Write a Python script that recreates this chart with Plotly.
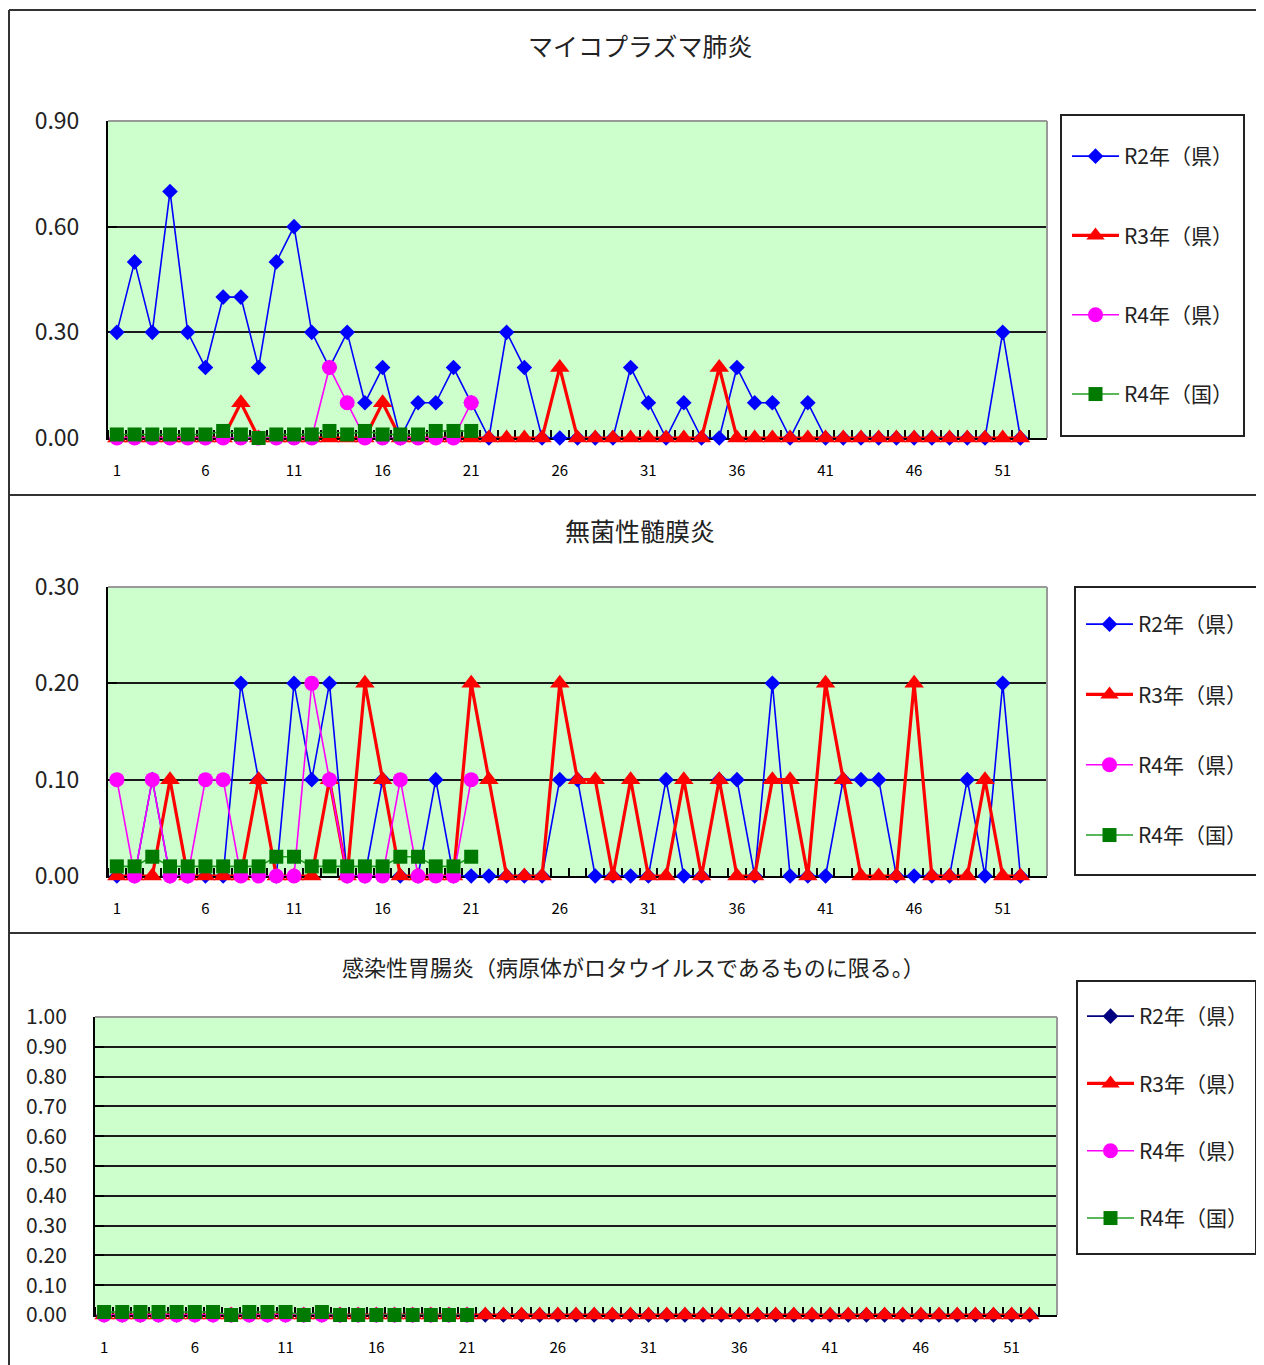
import plotly.graph_objects as go

W, H = 1264, 1365
OFF = 8  # page body margin offset

# ---------------- data ----------------
weeks = list(range(1, 53))
weeks21 = weeks[:21]
series_names = ["R2年（県）", "R3年（県）", "R4年（県）", "R4年（国）"]
x_tick_labels = [1, 6, 11, 16, 21, 26, 31, 36, 41, 46, 51]

# マイコプラズマ肺炎
myco_r2 = [0.3, 0.5, 0.3, 0.7, 0.3, 0.2, 0.4, 0.4, 0.2, 0.5,
           0.6, 0.3, 0.2, 0.3, 0.1, 0.2, 0.0, 0.1, 0.1, 0.2,
           0.1, 0.0, 0.3, 0.2, 0.0, 0.0, 0.0, 0.0, 0.0, 0.2,
           0.1, 0.0, 0.1, 0.0, 0.0, 0.2, 0.1, 0.1, 0.0, 0.1,
           0.0, 0.0, 0.0, 0.0, 0.0, 0.0, 0.0, 0.0, 0.0, 0.0,
           0.3, 0.0]
myco_r3 = [0.0, 0.0, 0.0, 0.0, 0.0, 0.0, 0.0, 0.1, 0.0, 0.0,
           0.0, 0.0, 0.0, 0.0, 0.0, 0.1, 0.0, 0.0, 0.0, 0.0,
           0.0, 0.0, 0.0, 0.0, 0.0, 0.2, 0.0, 0.0, 0.0, 0.0,
           0.0, 0.0, 0.0, 0.0, 0.2, 0.0, 0.0, 0.0, 0.0, 0.0,
           0.0, 0.0, 0.0, 0.0, 0.0, 0.0, 0.0, 0.0, 0.0, 0.0,
           0.0, 0.0]
myco_r4_pref = [0.0, 0.0, 0.0, 0.0, 0.0, 0.0, 0.0, 0.0, 0.0, 0.0,
                0.0, 0.0, 0.2, 0.1, 0.0, 0.0, 0.0, 0.0, 0.0, 0.0,
                0.1]
myco_r4_nat = [0.01, 0.01, 0.01, 0.01, 0.01, 0.01, 0.02, 0.01, 0.00, 0.01,
               0.01, 0.01, 0.02, 0.01, 0.02, 0.01, 0.01, 0.01, 0.02, 0.02,
               0.02]

# 無菌性髄膜炎
asep_r2 = [0.0, 0.0, 0.1, 0.0, 0.0, 0.0, 0.0, 0.2, 0.1, 0.0,
           0.2, 0.1, 0.2, 0.0, 0.0, 0.1, 0.0, 0.0, 0.1, 0.0,
           0.0, 0.0, 0.0, 0.0, 0.0, 0.1, 0.1, 0.0, 0.0, 0.0,
           0.0, 0.1, 0.0, 0.0, 0.1, 0.1, 0.0, 0.2, 0.0, 0.0,
           0.0, 0.1, 0.1, 0.1, 0.0, 0.0, 0.0, 0.0, 0.1, 0.0,
           0.2, 0.0]
asep_r3 = [0.0, 0.0, 0.0, 0.1, 0.0, 0.0, 0.0, 0.0, 0.1, 0.0,
           0.0, 0.0, 0.1, 0.0, 0.2, 0.1, 0.0, 0.0, 0.0, 0.0,
           0.2, 0.1, 0.0, 0.0, 0.0, 0.2, 0.1, 0.1, 0.0, 0.1,
           0.0, 0.0, 0.1, 0.0, 0.1, 0.0, 0.0, 0.1, 0.1, 0.0,
           0.2, 0.1, 0.0, 0.0, 0.0, 0.2, 0.0, 0.0, 0.0, 0.1,
           0.0, 0.0]
asep_r4_pref = [0.1, 0.0, 0.1, 0.0, 0.0, 0.1, 0.1, 0.0, 0.0, 0.0,
                0.0, 0.2, 0.1, 0.0, 0.0, 0.0, 0.1, 0.0, 0.0, 0.0,
                0.1]
asep_r4_nat = [0.01, 0.01, 0.02, 0.01, 0.01, 0.01, 0.01, 0.01, 0.01, 0.02,
               0.02, 0.01, 0.01, 0.01, 0.01, 0.01, 0.02, 0.02, 0.01, 0.01,
               0.02]

# 感染性胃腸炎（ロタウイルス）
rota_r2 = [0.0, 0.0, 0.0, 0.0, 0.0, 0.0, 0.0, 0.0, 0.0, 0.0,
           0.0, 0.0, 0.0, 0.0, 0.0, 0.0, 0.0, 0.0, 0.0, 0.0,
           0.0, 0.0, 0.0, 0.0, 0.0, 0.0, 0.0, 0.0, 0.0, 0.0,
           0.0, 0.0, 0.0, 0.0, 0.0, 0.0, 0.0, 0.0, 0.0, 0.0,
           0.0, 0.0, 0.0, 0.0, 0.0, 0.0, 0.0, 0.0, 0.0, 0.0,
           0.0, 0.0]
rota_r3 = [0.0, 0.0, 0.0, 0.0, 0.0, 0.0, 0.0, 0.0, 0.0, 0.0,
           0.0, 0.0, 0.0, 0.0, 0.0, 0.0, 0.0, 0.0, 0.0, 0.0,
           0.0, 0.0, 0.0, 0.0, 0.0, 0.0, 0.0, 0.0, 0.0, 0.0,
           0.0, 0.0, 0.0, 0.0, 0.0, 0.0, 0.0, 0.0, 0.0, 0.0,
           0.0, 0.0, 0.0, 0.0, 0.0, 0.0, 0.0, 0.0, 0.0, 0.0,
           0.0, 0.0]
rota_r4_pref = [0.0, 0.0, 0.0, 0.0, 0.0, 0.0, 0.0, 0.0, 0.0, 0.0,
                0.0, 0.0, 0.0, 0.0, 0.0, 0.0, 0.0, 0.0, 0.0, 0.0,
                0.0]
rota_r4_nat = [0.01, 0.01, 0.01, 0.01, 0.01, 0.01, 0.01, 0.00, 0.01, 0.01,
               0.01, 0.00, 0.01, 0.00, 0.00, 0.00, 0.00, 0.00, 0.00, 0.00,
               0.00]

titles = ["マイコプラズマ肺炎", "無菌性髄膜炎",
          "感染性胃腸炎（病原体がロタウイルスであるものに限る。）"]

# ---------------- styling ----------------
FONT = "Noto Sans CJK JP, Noto Sans, sans-serif"


def fx(px):
    return (px - OFF) / W


def fy(py):
    return 1 - (py - OFF) / H


fig = go.Figure()

panels = [
    dict(data=[myco_r2, myco_r3, myco_r4_pref, myco_r4_nat], r2color="#0000FF"),
    dict(data=[asep_r2, asep_r3, asep_r4_pref, asep_r4_nat], r2color="#0000FF"),
    dict(data=[rota_r2, rota_r3, rota_r4_pref, rota_r4_nat], r2color="#000080"),
]

for i, p in enumerate(panels):
    xa = "x" if i == 0 else f"x{i+1}"
    ya = "y" if i == 0 else f"y{i+1}"
    lg = "legend" if i == 0 else f"legend{i+1}"
    r2, r3, r4p, r4n = p["data"]
    specs = [
        (weeks, r2, series_names[0], p["r2color"], 1.6, "diamond", 12, p["r2color"]),
        (weeks, r3, series_names[1], "#FF0000", 3.2, "triangle-up", 17, "#FF0000"),
        (weeks21, r4p, series_names[2], "#FF00FF", 1.6, "circle", 15, "#FF00FF"),
        (weeks21, r4n, series_names[3], "#22A022", 1.6, "square", 14, "#007A00"),
    ]
    for k, (xs, ys, nm, lc, lw, sym, ms, mc) in enumerate(specs):
        fig.add_trace(go.Scatter(
            x=xs, y=ys, name=nm, mode="lines+markers",
            line=dict(color=lc, width=lw),
            marker=dict(symbol=sym, size=ms, color=mc, line=dict(width=0)),
            xaxis=xa, yaxis=ya, legend=lg, legendgroup=f"g{i}{k}",
            cliponaxis=False, showlegend=True,
        ))

plot_areas = [
    dict(x0=108, x1=1047, y0=121, y1=438, yrange=[0, 0.9], ytv=[0, 0.3, 0.6, 0.9], yfs=23),
    dict(x0=108, x1=1047, y0=587, y1=876, yrange=[0, 0.3], ytv=[0, 0.1, 0.2, 0.3], yfs=23),
    dict(x0=95, x1=1057, y0=1017, y1=1315, yrange=[0, 1.0],
         ytv=[0, 0.1, 0.2, 0.3, 0.4, 0.5, 0.6, 0.7, 0.8, 0.9, 1.0], yfs=21),
]

layout_axes = {}
shapes = []
for i, a in enumerate(plot_areas):
    xk = "xaxis" if i == 0 else f"xaxis{i+1}"
    yk = "yaxis" if i == 0 else f"yaxis{i+1}"
    xa = "x" if i == 0 else f"x{i+1}"
    ya = "y" if i == 0 else f"y{i+1}"
    layout_axes[xk] = dict(
        domain=[fx(a["x0"]), fx(a["x1"])], anchor=ya, range=[0.5, 53.5],
        tickmode="array", tickvals=x_tick_labels, ticktext=[str(v) for v in x_tick_labels],
        ticks="", showgrid=False, zeroline=False,
        showline=True, linecolor="#000000", linewidth=2,
        minor=dict(tickmode="linear", tick0=0.5, dtick=1, ticks="inside",
                   ticklen=8, tickcolor="#000000", tickwidth=1.5, showgrid=False),
        tickfont=dict(family=FONT, size=15, color="#000000"),
        ticklabelstandoff=18, layer="below traces", fixedrange=True,
    )
    layout_axes[yk] = dict(
        domain=[fy(a["y1"]), fy(a["y0"])], anchor=xa, range=a["yrange"],
        tickmode="array", tickvals=a["ytv"], tickformat=".2f",
        ticks="inside", ticklen=9, tickcolor="#000000", tickwidth=1.5,
        showgrid=True, gridcolor="#1a1a1a", gridwidth=2, zeroline=False,
        showline=True, linecolor="#000000", linewidth=2,
        tickfont=dict(family=FONT, size=a["yfs"], color="#222222"),
        ticklabelstandoff=22, layer="below traces", fixedrange=True,
    )
    # gray top / right border of plot area
    shapes.append(dict(type="line", xref=f"{xa} domain", yref=f"{ya} domain",
                       x0=1, x1=1, y0=0, y1=1, line=dict(color="#999999", width=2)))
    shapes.append(dict(type="line", xref=f"{xa} domain", yref=f"{ya} domain",
                       x0=0, x1=1, y0=1, y1=1, line=dict(color="#999999", width=2)))

# panel frame lines
frame = dict(color="#333333", width=2)
shapes += [
    dict(type="line", xref="paper", yref="paper", x0=fx(9), x1=1.0, y0=fy(10), y1=fy(10), line=frame),
    dict(type="line", xref="paper", yref="paper", x0=fx(9), x1=1.0, y0=fy(495), y1=fy(495), line=frame),
    dict(type="line", xref="paper", yref="paper", x0=fx(9), x1=1.0, y0=fy(933), y1=fy(933), line=frame),
    dict(type="line", xref="paper", yref="paper", x0=fx(9), x1=fx(9), y0=fy(10), y1=0, line=frame),
]

# legend boxes
legend_boxes = [(1061, 115, 1244, 436), (1075, 587, 1258, 875), (1077, 981, 1256, 1254)]
for (bx0, by0, bx1, by1) in legend_boxes:
    shapes.append(dict(type="rect", xref="paper", yref="paper",
                       x0=fx(bx0), x1=fx(bx1), y0=fy(by1), y1=fy(by0),
                       line=dict(color="#222222", width=2), fillcolor="#FFFFFF", layer="below"))

legend_common = dict(bgcolor="rgba(0,0,0,0)", borderwidth=0, xanchor="left", yanchor="top",
                     font=dict(family=FONT, size=21, color="#222222"),
                     itemwidth=47, traceorder="grouped")
legends = dict(
    legend=dict(x=fx(1067), y=fy(136), tracegroupgap=49, **legend_common),
    legend2=dict(x=fx(1081), y=fy(604), tracegroupgap=40, **legend_common),
    legend3=dict(x=fx(1082), y=fy(996), tracegroupgap=37, **legend_common),
)

title_pos = [(640, 45, 25), (640, 530, 25), (633, 966, 22)]
annotations = []
for t, (tx, ty, ts) in zip(titles, title_pos):
    annotations.append(dict(text=t, x=fx(tx), y=fy(ty), xref="paper", yref="paper",
                            showarrow=False, xanchor="center", yanchor="middle",
                            font=dict(family=FONT, size=ts, color="#222222")))

fig.update_layout(
    width=W, height=H, margin=dict(l=0, r=0, t=0, b=0, autoexpand=False),
    paper_bgcolor="#FFFFFF", plot_bgcolor="#CCFFCC",
    shapes=shapes, annotations=annotations, showlegend=True,
    **layout_axes, **legends,
)

fig.write_html("out.html")
